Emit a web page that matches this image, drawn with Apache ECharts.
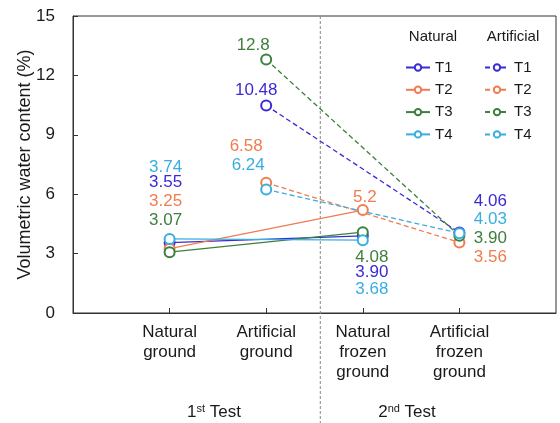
<!DOCTYPE html>
<html>
<head>
<meta charset="utf-8">
<script src="https://cdn.jsdelivr.net/npm/echarts@6/dist/echarts.min.js"></script>
<style>
html,body{margin:0;padding:0;background:#fff;}
#main{width:560px;height:423px;}
</style>
</head>
<body>
<div id="main"></div>
<script>
// ---- data ----
var categories = ['Natural\nground', 'Artificial\nground', 'Natural\nfrozen\nground', 'Artificial\nfrozen\nground'];
var seriesNames = ['T1', 'T2', 'T3', 'T4'];
var natural1st = [3.55, 3.25, 3.07, 3.74];       // Natural ground
var natural2nd = [3.90, 5.2, 4.08, 3.68];        // Natural frozen ground
var artificial1st = [10.48, 6.58, 12.8, 6.24];   // Artificial ground
var artificial2nd = [4.06, 3.56, 3.90, 4.03];    // Artificial frozen ground
var natural1stText = ['3.55', '3.25', '3.07', '3.74'];
var natural2ndText = ['3.90', '5.2', '4.08', '3.68'];
var artificial1stText = ['10.48', '6.58', '12.8', '6.24'];
var artificial2ndText = ['4.06', '3.56', '3.90', '4.03'];
var yTicks = [0, 3, 6, 9, 12, 15];

// ---- style ----
var FONT = 'Liberation Sans, Arial, sans-serif';
var colors = ['#3a2bd6', '#f07c50', '#3d7f3d', '#38aee0'];
// label offsets [dx, dy] relative to the point centre
var offN1 = [[-4, -60], [-4, -47], [-4, -32], [-4, -72]];
var offN2 = [[9, 37], [2, -13], [9, 25], [9, 49]];
var offA1 = [[-10, -15], [-20, -36], [-13, -14], [-18, -24]];
var offA2 = [[31, -31], [31, 15], [31, 3], [31, -13.5]];

var series = [];
function mkData(x1, x2, v1, v2, t1, t2, o1, o2) {
  return [
    {value: [x1, v1], label: {formatter: t1, offset: o1}},
    {value: [x2, v2], label: {formatter: t2, offset: o2}}
  ];
}
for (var i = 0; i < 4; i++) {
  series.push({
    name: 'Natural ' + seriesNames[i],
    type: 'line',
    data: mkData(1, 3, natural1st[i], natural2nd[i], natural1stText[i], natural2ndText[i], offN1[i], offN2[i]),
    symbol: 'emptyCircle', symbolSize: 10,
    lineStyle: {color: colors[i], width: 1.3, type: 'solid'},
    itemStyle: {color: colors[i], borderWidth: 1.2},
    label: {show: true, position: 'inside', color: colors[i], fontSize: 17, fontFamily: FONT},
    emphasis: {disabled: true},
    z: 3
  });
}
for (var j = 0; j < 4; j++) {
  series.push({
    name: 'Artificial ' + seriesNames[j],
    type: 'line',
    data: mkData(2, 4, artificial1st[j], artificial2nd[j], artificial1stText[j], artificial2ndText[j], offA1[j], offA2[j]),
    symbol: 'emptyCircle', symbolSize: 10,
    lineStyle: {color: colors[j], width: 1.3, type: [5, 3]},
    itemStyle: {color: colors[j], borderWidth: 1.2},
    label: {show: true, position: 'inside', color: colors[j], fontSize: 17, fontFamily: FONT},
    emphasis: {disabled: true},
    z: 3
  });
}

var chart = echarts.init(document.getElementById('main'), null, {renderer: 'canvas'});
var legendBase = {
  orient: 'vertical', itemWidth: 24, itemHeight: 8, itemGap: 7.3, top: 60, padding: 0,
  textStyle: {fontSize: 15, fontFamily: FONT, color: '#1a1a1a', lineHeight: 14},
  formatter: function (n) { return n.split(' ')[1]; },
  selectedMode: false
};
chart.setOption({
  animation: false,
  backgroundColor: '#fff',
  grid: {left: 73, right: 4, top: 16, bottom: 110, show: true, borderColor: '#333', borderWidth: 1},
  legend: [
    Object.assign({}, legendBase, {left: 405, data: seriesNames.map(function (s) { return 'Natural ' + s; })}),
    Object.assign({}, legendBase, {left: 484, data: seriesNames.map(function (s) { return 'Artificial ' + s; })})
  ],
  xAxis: {
    type: 'value', min: 0, max: 5, interval: 1,
    axisLine: {show: true, lineStyle: {color: '#333', width: 1}},
    axisTick: {show: true, inside: true, length: 5, lineStyle: {color: '#333'}, customValues: [1, 2, 3, 4]},
    axisLabel: {
      customValues: [1, 2, 3, 4],
      formatter: function (v) { return categories[Math.round(v) - 1] || ''; },
      fontSize: 17, fontFamily: FONT, color: '#1a1a1a', lineHeight: 20, margin: 9
    },
    splitLine: {show: false}
  },
  yAxis: {
    type: 'value', min: 0, max: 15, interval: 3,
    name: 'Volumetric water content (%)', nameLocation: 'middle', nameGap: 39, nameMoveOverlap: false,
    nameTextStyle: {fontSize: 18, fontFamily: FONT, color: '#1a1a1a'},
    axisLine: {show: true, lineStyle: {color: '#333', width: 1}},
    axisTick: {show: true, inside: true, length: 5, lineStyle: {color: '#333'}},
    axisLabel: {fontSize: 17, fontFamily: FONT, color: '#1a1a1a', margin: 18,
      formatter: function (v) { return yTicks.indexOf(v) >= 0 ? String(v) : ''; }},
    splitLine: {show: false}
  },
  series: series
});

// decorations: divider, group titles, legend headers
var divX = chart.convertToPixel({gridIndex: 0}, [2.56, 0])[0];
var topY = chart.convertToPixel({gridIndex: 0}, [0, 15])[1];
chart.setOption({
  graphic: [
    {type: 'line', shape: {x1: divX, y1: topY, x2: divX, y2: 423}, style: {stroke: '#888', lineWidth: 1, lineDash: [3, 2]}, z: 1},
    {type: 'text', x: 214, y: 412, style: {
      text: '{a|1}{s|st}{a| Test}', align: 'center', verticalAlign: 'middle',
      rich: {a: {fontSize: 17, fontFamily: FONT, fill: '#1a1a1a'}, s: {fontSize: 11, fontFamily: FONT, fill: '#1a1a1a', verticalAlign: 'top', padding: [0, 0, 6, 0]}}
    }},
    {type: 'text', x: 407, y: 412, style: {
      text: '{a|2}{s|nd}{a| Test}', align: 'center', verticalAlign: 'middle',
      rich: {a: {fontSize: 17, fontFamily: FONT, fill: '#1a1a1a'}, s: {fontSize: 11, fontFamily: FONT, fill: '#1a1a1a', verticalAlign: 'top', padding: [0, 0, 6, 0]}}
    }},
    {type: 'text', x: 433, y: 37, style: {text: 'Natural', align: 'center', verticalAlign: 'middle', fontSize: 15, fontFamily: FONT, fill: '#1a1a1a'}},
    {type: 'text', x: 513, y: 37, style: {text: 'Artificial', align: 'center', verticalAlign: 'middle', fontSize: 15, fontFamily: FONT, fill: '#1a1a1a'}}
  ]
});
</script>
</body>
</html>
